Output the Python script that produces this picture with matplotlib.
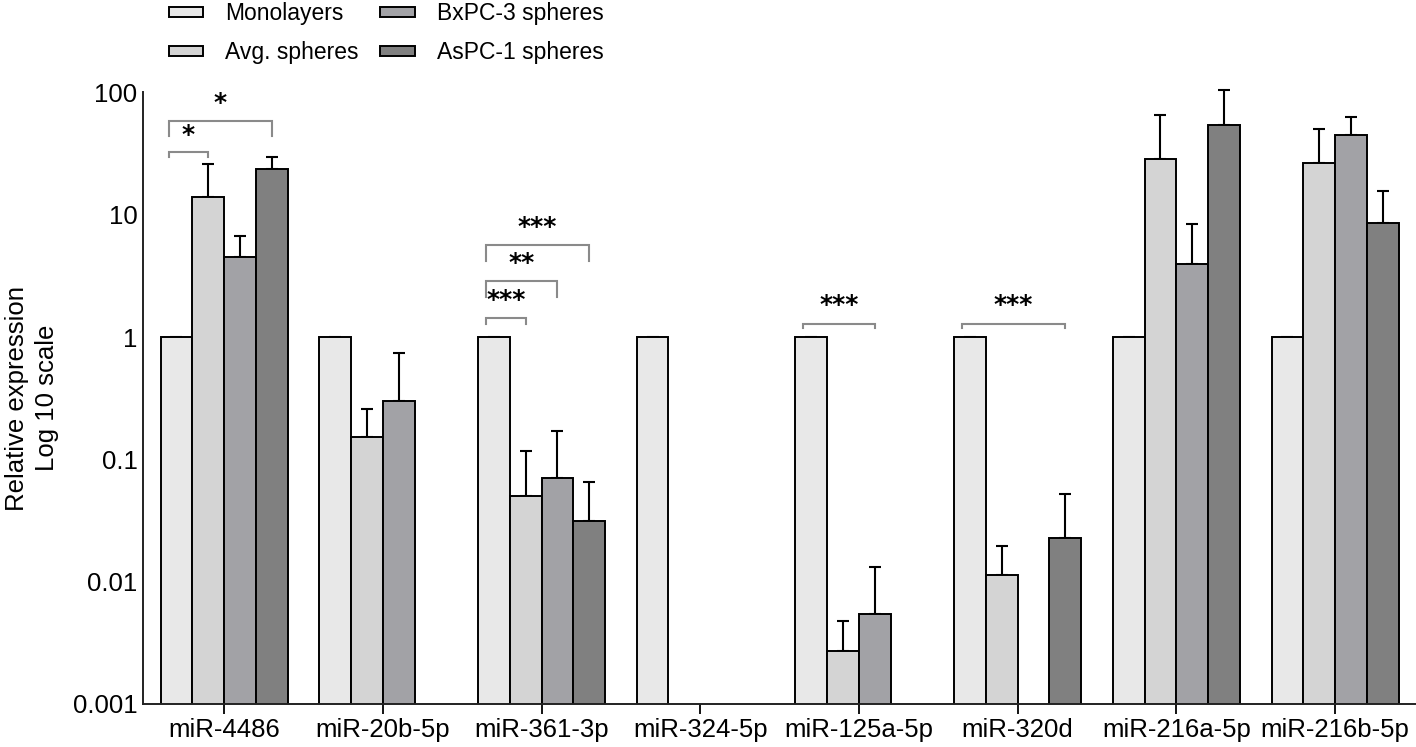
import numpy as np
import matplotlib
matplotlib.use('Agg')
import matplotlib.pyplot as plt
from matplotlib.ticker import FixedLocator, FixedFormatter, NullLocator

plt.rcParams['font.family'] = ['Liberation Sans', 'DejaVu Sans']

# ---------------- data ----------------
categories = ['miR-4486', 'miR-20b-5p', 'miR-361-3p', 'miR-324-5p',
              'miR-125a-5p', 'miR-320d', 'miR-216a-5p', 'miR-216b-5p']
series_names = ['Monolayers', 'Avg. spheres', 'BxPC-3 spheres', 'AsPC-1 spheres']
nan = np.nan
monolayers = [1, 1, 1, 1, 1, 1, 1, 1]
avg_spheres = [13.9, 0.151, 0.0506, nan, 0.00273, 0.0113, 28.8, 26.7]
bxpc3_spheres = [4.5, 0.30, 0.0704, nan, 0.00545, nan, 3.94, 44.6]
aspc1_spheres = [23.5, nan, 0.0313, nan, nan, 0.0226, 53.8, 8.5]
monolayers_err_top = [nan, nan, nan, nan, nan, nan, nan, nan]
avg_err_top = [25.8, 0.259, 0.117, nan, 0.0048, 0.0197, 64.9, 50.6]
bxpc3_err_top = [6.7, 0.737, 0.171, nan, 0.0133, nan, 8.4, 62.5]
aspc1_err_top = [29.6, nan, 0.0653, nan, nan, 0.0523, 105, 15.6]
ytick_values = [0.001, 0.01, 0.1, 1, 10, 100]
ytick_labels = ['0.001', '0.01', '0.1', '1', '10', '100']
# significance: (group, from series, to series, bracket level, tick end, label level, text)
sig_group = [0, 0, 2, 2, 2, 4, 5]
sig_from = [0, 0, 0, 0, 0, 0, 0]
sig_to = [1, 3, 1, 2, 3, 2, 3]
sig_level = [32.6, 58.4, 1.44, 2.87, 5.65, 1.29, 1.29]
sig_tick_end = [29.6, 44.0, 1.27, 2.11, 4.18, 1.18, 1.18]
sig_label_level = [44.9, 82, 2.01, 4.05, 7.98, 1.83, 1.83]
sig_text = ['*', '*', '***', '**', '***', '***', '***']

# ---------------- style ----------------
colors = ['#e8e8e8', '#d4d4d4', '#a2a2a6', '#808080']
values = [monolayers, avg_spheres, bxpc3_spheres, aspc1_spheres]
err_tops = [monolayers_err_top, avg_err_top, bxpc3_err_top, aspc1_err_top]
bar_w = 0.2

fig = plt.figure(figsize=(14.16, 7.47), dpi=100)
ax = fig.add_axes([143 / 1416, 1 - 704 / 747, 1 - 143 / 1416, (704 - 92.4) / 747])
ax.set_yscale('log')

x = np.arange(len(categories))
handles = []
for j, (vals, et) in enumerate(zip(values, err_tops)):
    xpos = x + (j - 1.5) * bar_w
    vals = np.array(vals, dtype=float)
    et = np.array(et, dtype=float)
    b = ax.bar(xpos, vals, width=bar_w, color=colors[j], edgecolor='black',
               linewidth=1.4, label=series_names[j], zorder=2)
    handles.append(b)
    up = et - vals
    lo = np.zeros_like(up)
    eb = ax.errorbar(xpos, vals, yerr=[lo, up], fmt='none', ecolor='black',
                     elinewidth=1.5, capsize=4.2, capthick=1.5, zorder=1)
    for art in eb.lines[1] + eb.lines[2]:
        art.set_clip_on(False)

# significance brackets
for g, f, t, lev, te, ll, txt in zip(sig_group, sig_from, sig_to, sig_level,
                                     sig_tick_end, sig_label_level, sig_text):
    x0 = g + (f - 1.5) * bar_w - 0.05
    x1 = g + (t - 1.5) * bar_w
    ax.plot([x0, x0, x1, x1], [te, lev, lev, te], color='#8a8a8a', lw=1.5,
            solid_joinstyle='miter', zorder=3, clip_on=False)
    ax.text((x0 + x1) / 2, ll, txt, ha='center', va='center', fontsize=18,
            family='DejaVu Sans', fontweight='bold', color='black')

ax.set_xlim(-0.511, 7.51)
ax.set_ylim(0.001, 100)

ax.yaxis.set_major_locator(FixedLocator(ytick_values))
ax.yaxis.set_major_formatter(FixedFormatter(ytick_labels))
ax.yaxis.set_minor_locator(NullLocator())
ax.set_xticks(x)
ax.set_xticklabels(categories)

ax.tick_params(axis='y', length=0, labelsize=18.5, pad=4)
ax.tick_params(axis='x', length=7, width=1.3, direction='out', labelsize=18.5,
               pad=3, color='black')

for s in ['top', 'right']:
    ax.spines[s].set_visible(False)
for s in ['left', 'bottom']:
    ax.spines[s].set_linewidth(1.4)
    ax.spines[s].set_color('#222222')

ax.set_ylabel('Relative expression\nLog 10 scale', fontsize=18.5, linespacing=1.3)
ax.yaxis.set_label_coords(-0.066, 0.5)

fig.legend(handles=handles, labels=series_names, ncol=2, loc='upper left',
           bbox_to_anchor=(169 / 1416, 1 - 2 / 747), frameon=False, fontsize=16.5,
           borderpad=0, borderaxespad=0, handlelength=1.5, handleheight=0.32,
           handletextpad=0.95, columnspacing=0.95, labelspacing=0.72)

fig.savefig('out.png', dpi=100)
